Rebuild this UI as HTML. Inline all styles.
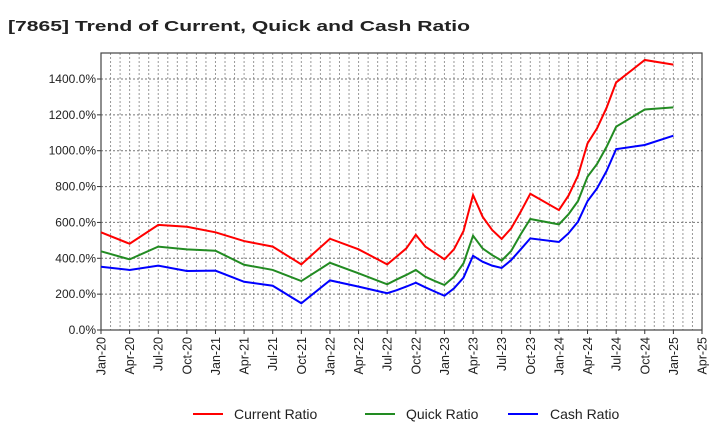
<!DOCTYPE html>
<html><head><meta charset="utf-8"><style>
body{margin:0;background:#fff;font-family:"Liberation Sans",sans-serif}
svg text{font-family:"Liberation Sans",sans-serif}
</style></head><body>
<svg id="c" width="720" height="440" xmlns="http://www.w3.org/2000/svg">
<text x="8" y="31" font-size="15" font-weight="bold" fill="#222" textLength="462" lengthAdjust="spacingAndGlyphs">[7865]  Trend of Current, Quick and Cash Ratio</text>
<g id="grid"></g>
<g id="axes"></g>
<g id="series"></g>
<g>
<g><line x1="193" y1="414" x2="223" y2="414" stroke="#f00" stroke-width="2"/><text x="234" y="419" font-size="14" fill="#222">Current Ratio</text></g>
<g><line x1="365" y1="414" x2="395" y2="414" stroke="#228b22" stroke-width="2"/><text x="406" y="419" font-size="14" fill="#222">Quick Ratio</text></g>
<g><line x1="508" y1="414" x2="538" y2="414" stroke="#00f" stroke-width="2"/><text x="550" y="419" font-size="14" fill="#222">Cash Ratio</text></g>
</g>
</svg>
<script>
const months = [0,3,6,9,12,15,18,21,24,27,30,31,32,33,34,35,36,37,38,39,40,41,42,43,44,45,48,49,50,51,52,53,54,57,60];
const currentRatio = [545,481,586,576,545,496,465,366,509,450,366,410,455,531,465,430,394,450,552,753,632,558,508,567,660,760,669,749,861,1041,1125,1240,1381,1506,1480];
const quickRatio = [439,394,465,450,442,364,335,273,375,316,255,282,307,335,297,273,251,297,372,526,455,418,387,441,534,619,589,645,719,855,926,1022,1134,1230,1242];
const cashRatio = [353,335,359,329,331,269,247,149,277,242,205,222,242,264,238,214,191,232,292,414,381,359,346,390,450,511,491,539,604,719,790,887,1009,1032,1084];
const yTicks = [0,200,400,600,800,1000,1200,1400];
const xLabels = ["Jan-20","Apr-20","Jul-20","Oct-20","Jan-21","Apr-21","Jul-21","Oct-21","Jan-22","Apr-22","Jul-22","Oct-22","Jan-23","Apr-23","Jul-23","Oct-23","Jan-24","Apr-24","Jul-24","Oct-24","Jan-25","Apr-25"];
const L=101,R=702,T=53,B=330,MAXM=63,MAXY=1545;
const xs=m=>L+(R-L)*m/MAXM, ys=v=>B-(B-T)*v/MAXY;
const NS="http://www.w3.org/2000/svg";
function mk(p,t,a){const e=document.createElementNS(NS,t);for(const k in a)e.setAttribute(k,a[k]);p.appendChild(e);return e;}
const grid=document.getElementById('grid'),axes=document.getElementById('axes'),series=document.getElementById('series');
for(let m=1;m<MAXM;m++){const l=mk(grid,'line',{x1:xs(m),x2:xs(m),y1:T,y2:B,stroke:'#999','stroke-dasharray':'2,2','stroke-width':1});
}
yTicks.forEach(v=>{if(v>0){const l=mk(grid,'line',{x1:L,x2:R,y1:ys(v),y2:ys(v),stroke:'#777','stroke-dasharray':'2,2','stroke-width':1});
}
const t=mk(axes,'text',{x:L-5,y:ys(v)+4,'font-size':12,'text-anchor':'end',fill:'#222'});t.textContent=v.toFixed(1)+'%';

mk(axes,'line',{x1:L-4,x2:L,y1:ys(v),y2:ys(v),stroke:'#333'});});
xLabels.forEach((s,i)=>{const x=xs(i*3);mk(axes,'line',{x1:x,x2:x,y1:B,y2:B+4,stroke:'#333'});
const t=mk(axes,'text',{x:0,y:0,'font-size':12.5,'text-anchor':'end',fill:'#222',transform:`translate(${x+4.5},${B+7}) rotate(-90)`});t.textContent=s;
});
const fr=mk(axes,'rect',{x:L,y:T,width:R-L,height:B-T,fill:'none',stroke:'#444','stroke-width':1.2});

[[currentRatio,'#f00','current-ratio-line'],[quickRatio,'#228b22','quick-ratio-line'],[cashRatio,'#00f','cash-ratio-line']].forEach(([d,c,n])=>{
const p=mk(series,'polyline',{points:d.map((v,i)=>xs(months[i])+','+ys(v)).join(' '),fill:'none',stroke:c,'stroke-width':2});
});
</script>
</body></html>
